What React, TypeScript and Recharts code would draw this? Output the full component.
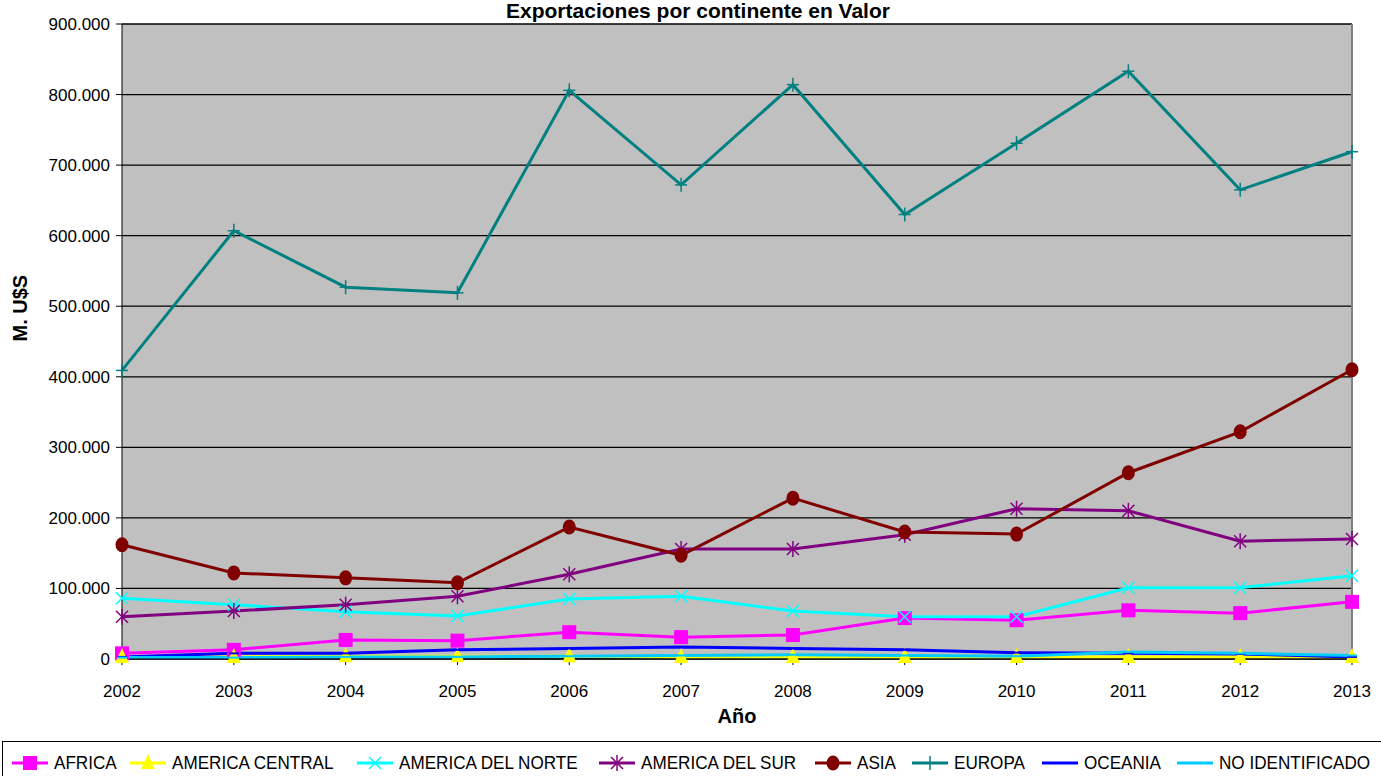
import React from "react";
import { LineChart, Line, XAxis, YAxis, CartesianGrid, ReferenceLine } from "recharts";

const years = [2002, 2003, 2004, 2005, 2006, 2007, 2008, 2009, 2010, 2011, 2012, 2013];
const yTicks = [0, 100, 200, 300, 400, 500, 600, 700, 800, 900];

// values in thousands of M. U$S
const africa = [8, 13, 27, 26, 38, 31, 34, 58, 55, 69, 65, 81];
const americaCentral = [3, 3, 4, 4, 4, 3, 3, 3, 3, 3, 3, 3];
const americaNorte = [86, 77, 67, 61, 85, 89, 68, 60, 60, 101, 101, 118];
const americaSur = [60, 68, 77, 89, 120, 156, 156, 176, 213, 210, 167, 170];
const asia = [162, 122, 115, 108, 187, 147, 228, 180, 177, 264, 322, 410];
const europa = [409, 607, 527, 519, 806, 672, 814, 630, 731, 833, 665, 719];
const oceania = [3, 8, 8, 13, 15, 17, 15, 13, 9, 8, 7, 3];
const noIdentificado = [2, 2, 3, 3, 4, 5, 6, 5, 4, 10, 8, 5];

const series = [
  { key: "africa", name: "AFRICA", values: africa, color: "#FF00FF", shape: "square" },
  { key: "central", name: "AMERICA CENTRAL", values: americaCentral, color: "#FFFF00", shape: "triangle" },
  { key: "norte", name: "AMERICA DEL NORTE", values: americaNorte, color: "#00FFFF", shape: "x" },
  { key: "sur", name: "AMERICA DEL SUR", values: americaSur, color: "#800080", shape: "star" },
  { key: "asia", name: "ASIA", values: asia, color: "#800000", shape: "circle" },
  { key: "europa", name: "EUROPA", values: europa, color: "#008080", shape: "plus" },
  { key: "oceania", name: "OCEANIA", values: oceania, color: "#0000FF", shape: "dash" },
  { key: "noid", name: "NO IDENTIFICADO", values: noIdentificado, color: "#00CCFF", shape: "dash" },
];

const data = years.map((year, i) => {
  const row: Record<string, number> = { year };
  series.forEach((s) => (row[s.key] = s.values[i]));
  return row;
});

const legendX = [10, 128, 355, 597, 813, 910, 1040, 1175];

function Marker({ shape, color, cx, cy }: { shape: string; color: string; cx: number; cy: number }) {
  switch (shape) {
    case "square":
      return <rect x={cx - 7} y={cy - 7} width={14} height={14} fill={color} />;
    case "triangle":
      return <polygon points={`${cx},${cy - 9} ${cx + 7},${cy + 6} ${cx - 7},${cy + 6}`} fill={color} />;
    case "circle":
      return <ellipse cx={cx} cy={cy} rx={6.5} ry={7.5} fill={color} />;
    case "x":
      return (
        <g stroke={color} strokeWidth={1.5}>
          <line x1={cx - 6} y1={cy - 6} x2={cx + 6} y2={cy + 6} />
          <line x1={cx - 6} y1={cy + 6} x2={cx + 6} y2={cy - 6} />
        </g>
      );
    case "star":
      return (
        <g stroke={color} strokeWidth={1.5}>
          <line x1={cx - 6} y1={cy - 6} x2={cx + 6} y2={cy + 6} />
          <line x1={cx - 6} y1={cy + 6} x2={cx + 6} y2={cy - 6} />
          <line x1={cx} y1={cy - 8} x2={cx} y2={cy + 8} />
        </g>
      );
    case "plus":
      return (
        <g stroke={color} strokeWidth={1.5}>
          <line x1={cx - 6} y1={cy} x2={cx + 6} y2={cy} />
          <line x1={cx} y1={cy - 7} x2={cx} y2={cy + 7} />
        </g>
      );
    default:
      return <line x1={cx - 5} y1={cy} x2={cx + 5} y2={cy} stroke={color} strokeWidth={2} />;
  }
}

const makeDot = (shape: string, color: string) => (props: any) => {
  const { cx, cy, index } = props;
  return (
    <g key={`${shape}-${index}`}>
      <Marker shape={shape} color={color} cx={cx} cy={cy} />
    </g>
  );
};

const fmtY = (v: number) => (v === 0 ? "0" : `${v}.000`);

export default function App() {
  return (
    <div style={{ position: "fixed", left: 0, top: 0, width: 1381, height: 776, background: "#fff", fontFamily: "Arial, 'Liberation Sans', sans-serif", overflow: "hidden" }}>
      <LineChart width={1381} height={741} data={data} margin={{ top: 24, right: 29, left: 0, bottom: 0 }}>
        <text x={698} y={18} textAnchor="middle" fontSize={21} fontWeight="bold" fill="#000">
          Exportaciones por continente en Valor
        </text>
        <CartesianGrid vertical={false} stroke="#000" strokeWidth={1.3} fill="#C0C0C0" fillOpacity={1} />
        <XAxis
          dataKey="year"
          type="number"
          domain={[2002, 2013]}
          ticks={years}
          height={82}
          stroke="#000"
          tick={{ fontSize: 17, fill: "#000" }}
          tickSize={6}
          tickMargin={20}
          label={{ value: "Año", position: "insideBottom", offset: 18, fontSize: 20, fontWeight: "bold", fill: "#000" }}
        />
        <YAxis
          type="number"
          domain={[0, 900]}
          ticks={yTicks}
          width={122}
          stroke="#000"
          tick={{ fontSize: 17, fill: "#000" }}
          tickFormatter={fmtY}
          tickSize={6}
          tickMargin={6}
          label={{ value: "M. U$S", angle: -90, position: "insideLeft", offset: 20, fontSize: 20, fontWeight: "bold", fill: "#000" }}
        />
        <ReferenceLine x={2013} stroke="#808080" strokeWidth={2} />
        {series.map((s) => (
          <Line
            key={s.key}
            dataKey={s.key}
            name={s.name}
            stroke={s.color}
            strokeWidth={3}
            dot={makeDot(s.shape, s.color)}
            activeDot={false}
            isAnimationActive={false}
          />
        ))}
      </LineChart>
      <div style={{ position: "absolute", left: 2, top: 741, width: 1390, height: 40, border: "1.5px solid #000", boxSizing: "border-box" }} />
      {series.map((s, i) => (
        <div key={s.key} style={{ position: "absolute", left: legendX[i], top: 750, height: 26, display: "flex", alignItems: "center", whiteSpace: "nowrap" }}>
          <svg width={40} height={20}>
            <line x1={2} y1={10} x2={38} y2={10} stroke={s.color} strokeWidth={3} />
            <Marker shape={s.shape} color={s.color} cx={20} cy={10} />
          </svg>
          <span style={{ fontSize: 19, marginLeft: 4, transform: "scaleX(0.9)", transformOrigin: "left center", display: "inline-block", color: "#000" }}>
            {s.name}
          </span>
        </div>
      ))}
    </div>
  );
}
